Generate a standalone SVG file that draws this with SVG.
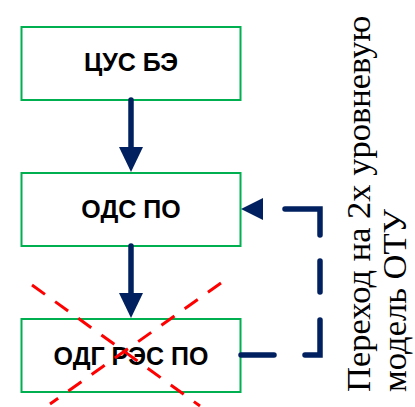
<svg xmlns="http://www.w3.org/2000/svg" width="415" height="407" viewBox="0 0 415 407">
  <style>
    .box { fill: #ffffff; stroke: #00b050; stroke-width: 2; }
    .label { font-family: "Liberation Sans", Arial, sans-serif; font-weight: bold; font-size: 25px; fill: #000000; text-anchor: middle; }
    .flow { fill: none; stroke: #002060; stroke-width: 5.5; stroke-linecap: round; stroke-linejoin: miter; }
    .back { stroke-dasharray: 33 31 50 28 31 26 61 100; }
    .cross { fill: none; stroke: #ff0000; stroke-width: 3; stroke-dasharray: 16 12.5; }
    .note { font-family: "Liberation Serif", "Times New Roman", serif; font-size: 34.5px; fill: #000000; }
  </style>
  <defs>
    <marker id="head" markerUnits="userSpaceOnUse" markerWidth="25" markerHeight="24" refX="0" refY="12" orient="auto" overflow="visible">
      <path d="M0,0 L25,12 L0,24 Z" fill="#002060"/>
    </marker>
    <marker id="headSmall" markerUnits="userSpaceOnUse" markerWidth="22" markerHeight="22" refX="0" refY="11" orient="auto" overflow="visible">
      <path d="M0,0 L22,11 L0,22 Z" fill="#002060"/>
    </marker>
  </defs>

  <rect width="415" height="407" fill="#ffffff"/>

  <g id="node-tsus">
    <rect class="box" x="21.5" y="27" width="219" height="73"/>
    <text class="label" x="131" y="71">ЦУС БЭ</text>
  </g>

  <g id="node-ods">
    <rect class="box" x="21.5" y="173" width="219" height="73"/>
    <text class="label" x="131" y="218">ОДС ПО</text>
  </g>

  <g id="node-odg">
    <rect class="box" x="21.5" y="319" width="219" height="73"/>
    <text class="label" x="131" y="365">ОДГ РЭС ПО</text>
  </g>

  <g id="connectors">
    <path class="flow" d="M131,100 L131,147" marker-end="url(#head)"/>
    <path class="flow" d="M131,246 L131,293" marker-end="url(#head)"/>
    <path class="flow back" d="M241,355 L320,355 L320,209 L263,209" marker-end="url(#headSmall)"/>
  </g>

  <!-- crossed-out mark over the lower node -->
  <g id="cross-out">
    <line class="cross" x1="32" y1="285" x2="200" y2="406"/>
    <line class="cross" x1="221" y1="283" x2="50" y2="404"/>
  </g>

  <g id="note">
    <text class="note" transform="translate(370,392) rotate(-90)">Переход на 2х уровневую</text>
    <text class="note" transform="translate(406,392) rotate(-90)">модель ОТУ</text>
  </g>
</svg>
